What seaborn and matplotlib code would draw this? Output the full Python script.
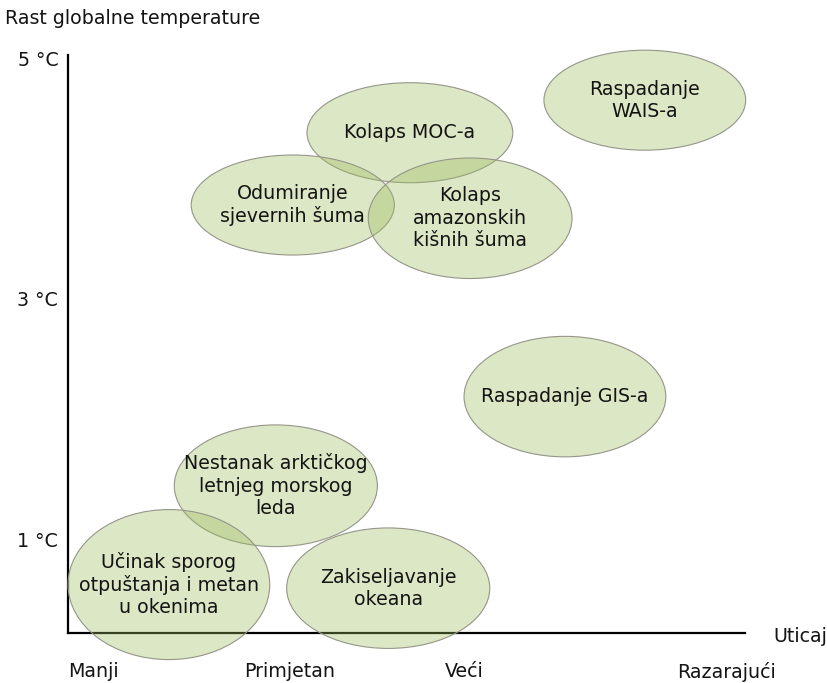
import matplotlib
matplotlib.use("Agg")
import matplotlib.pyplot as plt
from matplotlib.patches import Ellipse
import seaborn as sns

# Tipping elements: label, impact position (x), warming threshold (°C), ellipse width, ellipse height
labels = [
    "Raspadanje\nWAIS-a",
    "Kolaps MOC-a",
    "Odumiranje\nsjevernih šuma",
    "Kolaps\namazonskih\nkišnih šuma",
    "Raspadanje GIS-a",
    "Nestanak arktičkog\nletnjeg morskog\nleda",
    "Učinak sporog\notpuštanja i metan\nu okenima",
    "Zakiseljavanje\nokeana",
]
impact = [8.52, 5.05, 3.32, 5.94, 7.34, 3.07, 1.49, 4.73]
warming = [4.65, 4.38, 3.78, 3.67, 2.19, 1.45, 0.63, 0.60]
widths = [2.98, 3.04, 3.00, 3.01, 2.98, 3.00, 2.98, 3.00]
heights = [0.83, 0.83, 0.83, 1.00, 1.00, 1.01, 1.245, 1.00]

impact_ticks = [0.37, 3.28, 5.85, 9.72]
impact_labels = ["Manji", "Primjetan", "Veći", "Razarajući"]
temp_ticks = [1, 3, 5]
temp_labels = ["1 °C", "3 °C", "5 °C"]

FS = 13.7
TXT = "#141414"

sns.set_theme(style="white")
plt.rcParams["font.family"] = ["DejaVu Sans"]

fig = plt.figure(figsize=(8.28, 6.83), dpi=100)
ax = fig.add_axes([68 / 828, 50 / 683, 677 / 828, 578 / 683])
ax.set_xlim(0, 10)
ax.set_ylim(0.228, 5.025)

for lab, x, y, w, h in zip(labels, impact, warming, widths, heights):
    ax.add_patch(Ellipse((x, y), w, h, facecolor="#9BBB59", alpha=0.35,
                         edgecolor="none", clip_on=False, zorder=3))
    ax.add_patch(Ellipse((x, y), w, h, facecolor="none", edgecolor="#95958a",
                         linewidth=0.8, clip_on=False, zorder=3))
    ax.text(x, y, lab, ha="center", va="center", fontsize=FS,
            color=TXT, zorder=4, linespacing=1.22)

sns.despine(ax=ax)
for side in ("left", "bottom"):
    ax.spines[side].set_color("black")
    ax.spines[side].set_linewidth(1.6)
    ax.spines[side].set_zorder(2)

ax.set_xticks(impact_ticks)
ax.set_xticklabels(impact_labels, fontsize=FS, color=TXT)
ax.set_yticks(temp_ticks)
ax.set_yticklabels(temp_labels, fontsize=FS, color=TXT)
ax.tick_params(axis="x", length=0, pad=21)
ax.tick_params(axis="y", length=0, pad=7)

fig.text(5 / 828, 1 - 18 / 683, "Rast globalne temperature", ha="left",
         va="center", fontsize=FS, color=TXT)
fig.text(773 / 828, 1 - 636 / 683, "Uticaj", ha="left", va="center",
         fontsize=FS, color=TXT)

fig.savefig("out.png", dpi=100, facecolor="white")
